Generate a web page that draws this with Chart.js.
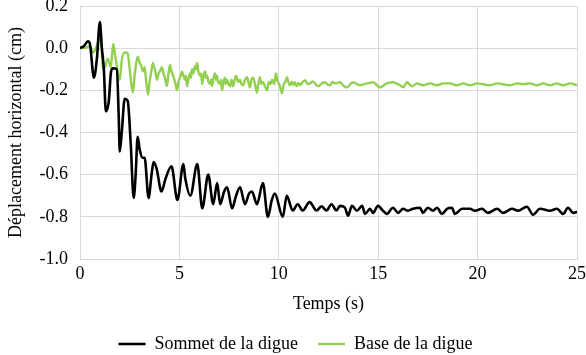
<!DOCTYPE html>
<html>
<head>
<meta charset="utf-8">
<script src="https://cdn.jsdelivr.net/npm/chart.js@4"></script>
<style>
  html, body { margin: 0; padding: 0; background: #fff; }
  #wrap { width: 586px; height: 355px; }
</style>
</head>
<body>
<div id="wrap"><canvas id="graphe"></canvas></div>
<script>
// Sommet de la digue (noir)
const tempsSommet = [0, 0.2, 0.4, 0.5, 0.7, 0.85, 1.0, 1.1, 1.2, 1.3, 1.45, 1.55, 1.65, 1.85, 1.95, 2.0, 2.1, 2.25, 2.4, 2.55,
  2.7, 2.8, 2.9, 3.0, 3.15, 3.25, 3.45, 3.6, 3.7, 3.85, 4.1, 4.3, 4.6, 4.9, 5.2, 5.3, 5.55, 5.9, 6.15, 6.45,
  6.7, 6.9, 7.05, 7.25, 7.4, 7.65, 7.85, 8.05, 8.3, 8.5, 8.65, 8.9, 9.2, 9.45, 9.65, 9.8, 10.2, 10.4, 10.7, 10.95,
  11.2, 11.55, 11.9, 12.15, 12.4, 12.65, 12.9, 13.08, 13.33, 13.48, 13.68, 13.93, 14.19, 14.34, 14.59, 14.74, 14.99, 15.24, 15.44, 15.74,
  16.0, 16.25, 16.5, 16.75, 17.1, 17.25, 17.5, 17.76, 17.96, 18.21, 18.46, 18.71, 18.86, 19.22, 19.62, 19.87, 20.22, 20.52, 20.98, 21.28,
  21.73, 22.03, 22.48, 22.79, 23.14, 23.64, 23.99, 24.3, 24.55, 24.8, 25.0];
const sommet = [0, 0.01, 0.033, 0.02, -0.14, -0.05, 0.124, 0.0, -0.10, -0.30, -0.25, -0.12, -0.095, -0.10, -0.33, -0.49, -0.40, -0.24, -0.25, -0.45,
  -0.71, -0.60, -0.42, -0.48, -0.52, -0.52, -0.71, -0.60, -0.54, -0.57, -0.68, -0.62, -0.56, -0.72, -0.55, -0.62, -0.70, -0.55, -0.76, -0.60,
  -0.74, -0.64, -0.74, -0.68, -0.66, -0.76, -0.70, -0.66, -0.74, -0.69, -0.68, -0.74, -0.64, -0.80, -0.72, -0.69, -0.80, -0.70, -0.77, -0.74,
  -0.77, -0.73, -0.77, -0.75, -0.77, -0.74, -0.77, -0.748, -0.757, -0.795, -0.748, -0.771, -0.748, -0.786, -0.762, -0.781, -0.748, -0.771, -0.786, -0.757,
  -0.781, -0.762, -0.771, -0.762, -0.757, -0.781, -0.757, -0.771, -0.757, -0.786, -0.762, -0.757, -0.786, -0.762, -0.762, -0.771, -0.762, -0.781, -0.762, -0.781,
  -0.762, -0.771, -0.752, -0.79, -0.762, -0.771, -0.762, -0.786, -0.757, -0.781, -0.776];

// Base de la digue (vert)
const tempsBase = [0, 0.25, 0.5, 0.65, 0.8, 1.0, 1.1, 1.15, 1.25, 1.4, 1.55, 1.67, 1.76, 1.86, 2.0, 2.1, 2.25, 2.4, 2.5, 2.66,
  2.76, 2.9, 3.0, 3.07, 3.17, 3.25, 3.32, 3.42, 3.5, 3.57, 3.67, 3.72, 3.77, 3.87, 3.95, 4.02, 4.12, 4.2, 4.27, 4.37,
  4.45, 4.53, 4.6, 4.68, 4.78, 4.88, 4.95, 5.03, 5.1, 5.13, 5.2, 5.28, 5.33, 5.38, 5.45, 5.53, 5.58, 5.63, 5.7, 5.78,
  5.84, 5.89, 5.95, 6.04, 6.1, 6.14, 6.2, 6.29, 6.34, 6.39, 6.46, 6.54, 6.6, 6.64, 6.72, 6.79, 6.84, 6.89, 6.95, 7.04,
  7.1, 7.14, 7.22, 7.29, 7.34, 7.39, 7.47, 7.55, 7.62, 7.7, 7.78, 7.85, 7.95, 8.05, 8.12, 8.2, 8.3, 8.4, 8.47, 8.55,
  8.62, 8.7, 8.8, 8.9, 8.97, 9.05, 9.12, 9.2, 9.3, 9.41, 9.5, 9.58, 9.66, 9.76, 9.86, 9.92, 9.96, 10.06, 10.16, 10.25,
  10.33, 10.41, 10.48, 10.56, 10.66, 10.73, 10.81, 10.9, 11.0, 11.07, 11.2, 11.32, 11.45, 11.57, 11.7, 11.82, 11.95, 12.07, 12.2, 12.32,
  12.45, 12.58, 12.7, 12.83, 13.08, 13.25, 13.43, 13.73, 14.08, 14.44, 14.74, 15.09, 15.44, 15.74, 16.1, 16.25, 16.45, 16.7, 16.95, 17.25,
  17.6, 17.96, 18.26, 18.61, 18.96, 19.27, 19.62, 19.97, 20.27, 20.62, 20.98, 21.28, 21.63, 21.98, 22.28, 22.64, 22.99, 23.29, 23.64, 23.99,
  24.3, 24.65, 25.0];
const base = [0, 0.0, 0.01, -0.02, 0.0, 0.045, -0.02, -0.10, -0.09, -0.05, -0.09, 0.02, -0.03, -0.09, -0.15, -0.06, -0.02, -0.025, -0.10, -0.21,
  -0.12, -0.04, -0.07, -0.08, -0.11, -0.09, -0.15, -0.22, -0.16, -0.12, -0.07, -0.09, -0.10, -0.15, -0.12, -0.11, -0.09, -0.12, -0.14, -0.18,
  -0.12, -0.08, -0.11, -0.13, -0.16, -0.20, -0.16, -0.14, -0.12, -0.11, -0.13, -0.15, -0.13, -0.18, -0.15, -0.12, -0.14, -0.10, -0.12, -0.085,
  -0.10, -0.07, -0.11, -0.13, -0.12, -0.17, -0.14, -0.11, -0.14, -0.13, -0.16, -0.17, -0.15, -0.18, -0.14, -0.12, -0.15, -0.13, -0.16, -0.17,
  -0.15, -0.20, -0.16, -0.14, -0.17, -0.15, -0.17, -0.18, -0.15, -0.18, -0.15, -0.13, -0.16, -0.15, -0.17, -0.176, -0.15, -0.138, -0.16, -0.186,
  -0.15, -0.14, -0.17, -0.21, -0.17, -0.138, -0.17, -0.16, -0.18, -0.20, -0.16, -0.17, -0.15, -0.17, -0.12, -0.15, -0.16, -0.18, -0.214, -0.17,
  -0.16, -0.138, -0.16, -0.176, -0.16, -0.175, -0.162, -0.18, -0.165, -0.176, -0.16, -0.152, -0.17, -0.167, -0.158, -0.167, -0.18, -0.176, -0.165, -0.162,
  -0.172, -0.176, -0.16, -0.167, -0.162, -0.178, -0.186, -0.162, -0.176, -0.167, -0.162, -0.186, -0.167, -0.162, -0.176, -0.186, -0.162, -0.181, -0.167, -0.176,
  -0.167, -0.176, -0.167, -0.167, -0.176, -0.167, -0.176, -0.167, -0.171, -0.176, -0.167, -0.171, -0.176, -0.167, -0.171, -0.167, -0.176, -0.167, -0.176, -0.167,
  -0.176, -0.167, -0.176];

const xTicks = [0, 5, 10, 15, 20, 25];
const yTicks = [-1.0, -0.8, -0.6, -0.4, -0.2, 0.0, 0.2];

const police = { family: "'Liberation Serif', 'Times New Roman', serif", size: 18 };
const grille = '#d9d9d9';

function points(ts, vs) {
    return ts.map((t, i) => ({ x: t, y: vs[i] }));
}

const ctx = document.getElementById('graphe').getContext('2d');
new Chart(ctx, {
    type: 'line',
    data: {
        datasets: [{
            label: 'Sommet de la digue',
            data: points(tempsSommet, sommet),
            borderColor: '#000000',
            backgroundColor: '#000000',
            borderWidth: 2.6,
            pointRadius: 0,
            cubicInterpolationMode: 'monotone'
        }, {
            label: 'Base de la digue',
            data: points(tempsBase, base),
            borderColor: '#92d050',
            backgroundColor: '#92d050',
            borderWidth: 2.4,
            pointRadius: 0,
            cubicInterpolationMode: 'monotone'
        }]
    },
    options: {
        responsive: true,
        maintainAspectRatio: false,
        animation: false,
        layout: { padding: { left: 5, right: 0, top: 0, bottom: -8 } },
        plugins: {
            tooltip: { enabled: false },
            legend: {
                position: 'bottom',
                labels: {
                    color: '#000',
                    font: police,
                    usePointStyle: true,
                    pointStyle: 'line',
                    pointStyleWidth: 27,
                    padding: 20
                }
            }
        },
        scales: {
            x: {
                type: 'linear',
                min: 0,
                max: 25,
                afterBuildTicks: axis => { axis.ticks = xTicks.map(v => ({ value: v })); },
                afterFit: axis => {
                    axis.height = 56;
                    axis.paddingLeft = 0;
                    axis.paddingRight = 9;
                },
                grid: { color: grille, lineWidth: 1, drawTicks: false },
                border: { color: grille },
                ticks: { color: '#000', font: police, padding: 4 },
                title: { display: true, text: 'Temps (s)', color: '#000', font: police, padding: { top: 4, bottom: 0 } }
            },
            y: {
                min: -1.0,
                max: 0.2,
                afterBuildTicks: axis => { axis.ticks = yTicks.map(v => ({ value: v })); },
                afterFit: axis => {
                    axis.width = 75;
                    axis.paddingTop = 6;
                    axis.paddingBottom = 0;
                },
                grid: { color: grille, lineWidth: 1, drawTicks: false },
                border: { color: grille },
                ticks: { color: '#000', font: police, padding: 12, callback: v => v.toFixed(1) },
                title: { display: true, text: 'Déplacement horizontal (cm)', color: '#000', font: police, padding: 0 }
            }
        }
    }
});
</script>
</body>
</html>
